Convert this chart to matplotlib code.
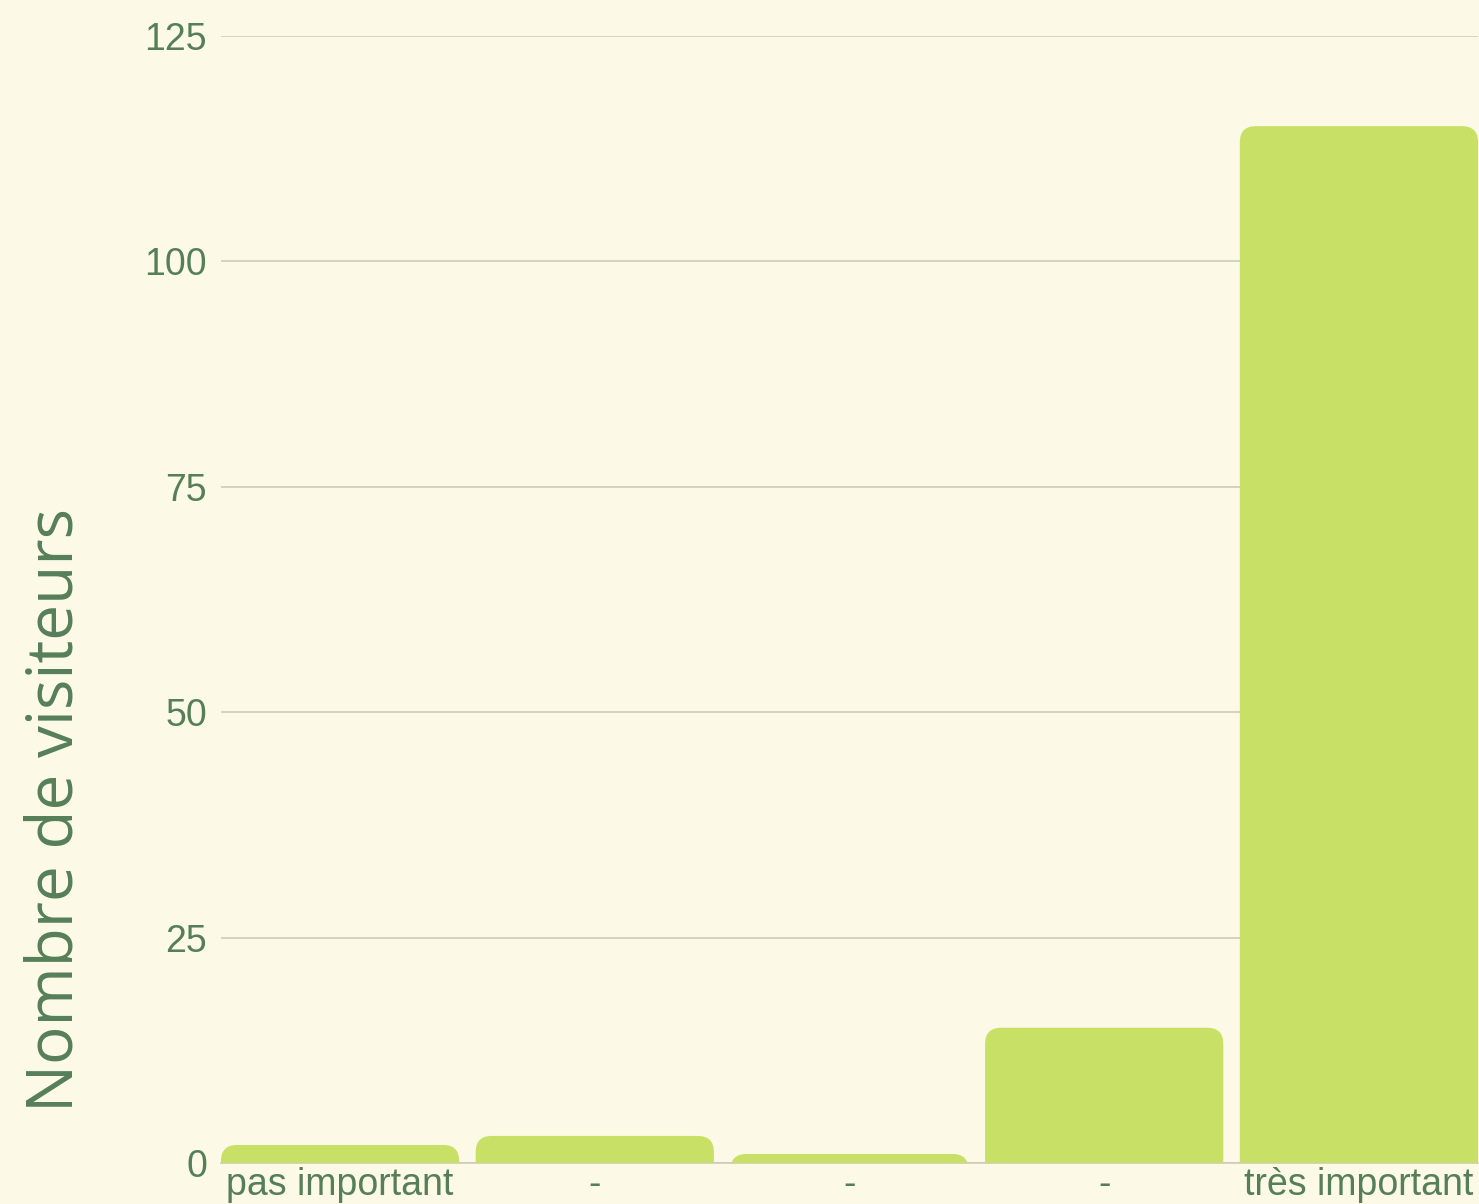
import numpy as np
import matplotlib.pyplot as plt
from matplotlib.patches import FancyBboxPatch

# data
categories = ['pas important', '-', '-', '-', 'très important']
visiteurs = [2, 3, 1, 15, 115]
yticks = [0, 25, 50, 75, 100, 125]

bg = '#fcfae6'
bar_color = '#c9e066'
text_color = '#567f58'
grid_color = '#cccbbd'

fig = plt.figure(figsize=(14.79, 12.04), dpi=100, facecolor=bg)
ax = fig.add_axes([221/1479, 41/1204, 1257/1479, 1127/1204])
ax.set_facecolor(bg)

w = 238/254.5
x = np.arange(len(categories))
ax.set_xlim(-w/2, x[-1] + w/2)
ax.set_ylim(0, 125)

# rounded top corners: boxes extended below 0 and clipped by the axes
px_per_x = 1257 / (x[-1] + w)
px_per_y = 1127 / 125
r = 16 / px_per_x
for xi, v in zip(x, visiteurs):
    p = FancyBboxPatch((xi - w/2 + r, -30 + r * px_per_x/px_per_y), w - 2*r, v + 30 - 2*r*px_per_x/px_per_y,
                       boxstyle='round,pad=%f,rounding_size=%f' % (r, r),
                       mutation_aspect=px_per_x/px_per_y,
                       facecolor=bar_color, edgecolor='none', zorder=3)
    ax.add_patch(p)

ax.set_yticks(yticks)
ax.yaxis.grid(True, color=grid_color, linewidth=1.2, zorder=0)
ax.set_axisbelow(True)
ax.set_xticks(x)
ax.set_xticklabels(categories)
for s in ['top', 'right', 'left']:
    ax.spines[s].set_visible(False)
ax.spines['bottom'].set_color(grid_color)
ax.spines['bottom'].set_linewidth(1.2)
ax.tick_params(axis='both', length=0, labelsize=27, colors=text_color, labelfontfamily='Liberation Sans')
ax.tick_params(axis='x', pad=3)
ax.tick_params(axis='y', pad=10)

fig.text(56/1479, 1 - 810/1204, 'Nombre de visiteurs', rotation=90, ha='center', va='center',
         fontsize=46, color=text_color, family='Open Sans')

plt.savefig('out.png', facecolor=bg)
